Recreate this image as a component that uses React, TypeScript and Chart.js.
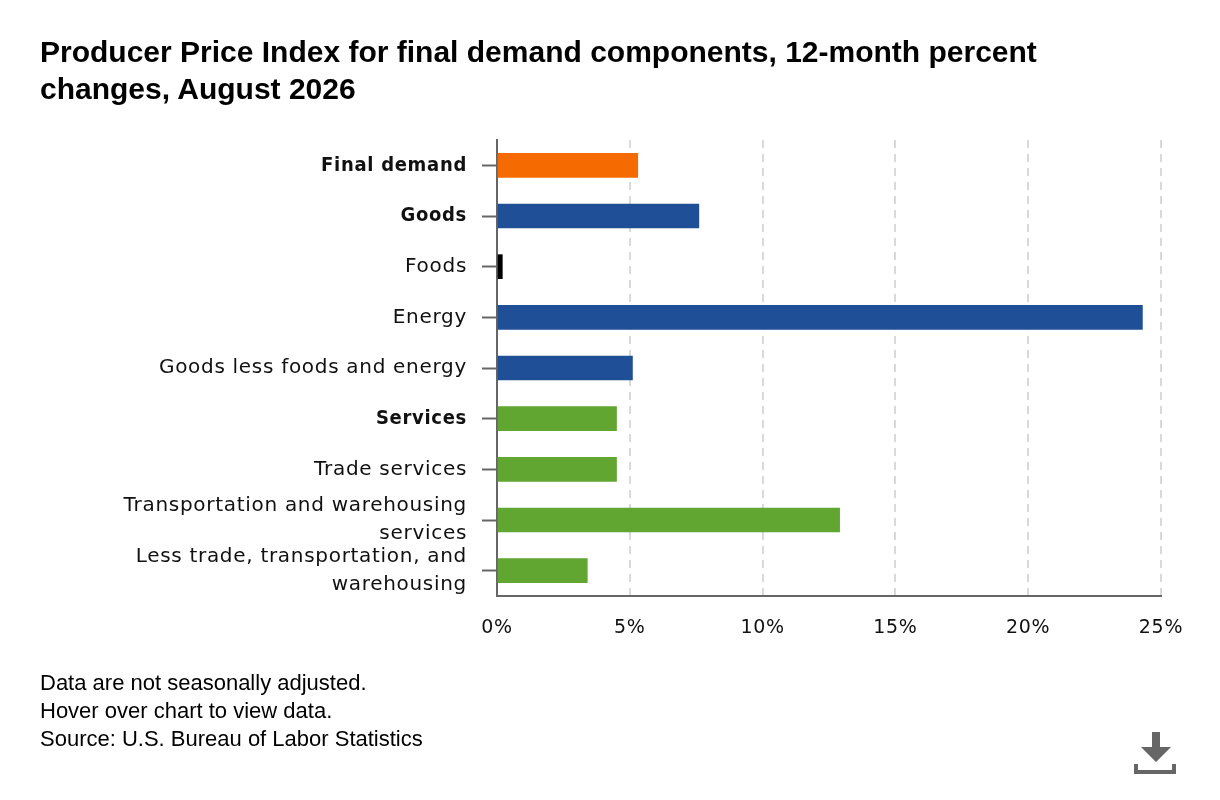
import { useEffect, useRef } from 'react'
import { Chart, registerables } from 'chart.js'

Chart.register(...registerables)

const categories = [
  'Final demand',
  'Goods',
  'Foods',
  'Energy',
  'Goods less foods and energy',
  'Services',
  'Trade services',
  ['Transportation and warehousing', 'services'],
  ['Less trade, transportation, and', 'warehousing'],
]
const values = [5.3, 7.6, 0.2, 24.3, 5.1, 4.5, 4.5, 12.9, 3.4]
const barColors = ['#f66a02', '#1f5097', '#000000', '#1f5097', '#1f5097', '#60a630', '#60a630', '#60a630', '#60a630']
const boldCategories = [0, 1, 5]
const xTicks = [0, 5, 10, 15, 20, 25]
const footnotes = ['Data are not seasonally adjusted.', 'Hover over chart to view data.', 'Source: U.S. Bureau of Labor Statistics']

const axisFont = '"DejaVu Sans", sans-serif'
const boldFont = '"DejaVu Sans Condensed", "DejaVu Sans", sans-serif'
const spacing = {
  id: 'spacing',
  beforeDraw(chart: Chart) {
    ;(chart.ctx as any).letterSpacing = '0.7px'
  },
}

export default function App() {
  const ref = useRef<HTMLCanvasElement | null>(null)

  useEffect(() => {
    if (!ref.current) return
    const chart = new Chart(ref.current, {
      type: 'bar',
      plugins: [spacing],
      data: {
        labels: categories,
        datasets: [{ data: values, backgroundColor: barColors, barThickness: 24 }],
      },
      options: {
        indexAxis: 'y',
        animation: false,
        responsive: false,
        devicePixelRatio: 1,
        layout: { padding: { top: 140, right: 59, bottom: 144, left: 0 } },
        plugins: { legend: { display: false }, tooltip: { enabled: false } },
        scales: {
          x: {
            type: 'linear',
            min: 0,
            max: 25,
            afterFit: (scale) => { scale.height = 60 },
            afterBuildTicks: (scale) => { scale.ticks = xTicks.map((value) => ({ value })) },
            border: { color: '#666666', width: 2, dash: [8, 6] },
            grid: { color: '#d9d9d9', lineWidth: 2, drawTicks: false, tickLength: 0 },
            ticks: {
              color: '#111111',
              font: { family: axisFont, size: 19 },
              padding: 21,
              maxRotation: 0,
              callback: (v) => `${v}%`,
            },
          },
          y: {
            afterFit: (scale) => { scale.width = 497 },
            border: { color: '#666666', width: 2 },
            grid: { offset: false, drawOnChartArea: false, tickColor: '#666666', tickLength: 15, tickWidth: 2 },
            ticks: {
              color: '#111111',
              padding: 15,
              autoSkip: false,
              font: (c) => {
                const bold = boldCategories.includes(c.index)
                return {
                  family: bold ? boldFont : axisFont,
                  size: 20,
                  lineHeight: 1.4,
                  weight: bold ? 'bold' : 'normal',
                }
              },
            },
          },
        },
      },
    })
    return () => chart.destroy()
  }, [])

  return (
    <div style={{ position: 'absolute', left: 0, top: 0, width: 1220, height: 800, background: '#fff', overflow: 'hidden' }}>
      <canvas ref={ref} width={1220} height={800} style={{ position: 'absolute', left: 0, top: 0 }} />
      <div style={{ position: 'absolute', left: 40, top: 33, width: 1020, fontFamily: '"Liberation Sans", sans-serif', fontWeight: 700, fontSize: 30, lineHeight: '37px', color: '#000' }}>
        Producer Price Index for final demand components, 12-month percent changes, August 2026
      </div>
      <div style={{ position: 'absolute', left: 40, top: 669, fontFamily: '"Liberation Sans", sans-serif', fontSize: 22, lineHeight: '28px', color: '#000' }}>
        {footnotes.map((t) => <div key={t}>{t}</div>)}
      </div>
      <svg style={{ position: 'absolute', left: 1134, top: 732 }} width={42} height={42} viewBox="0 0 42 42">
        <path d="M18 0h8v15h11L22 30 7 15h11z M0 32h4v6h34v-6h4v10H0z" fill="#666666" />
      </svg>
    </div>
  )
}
